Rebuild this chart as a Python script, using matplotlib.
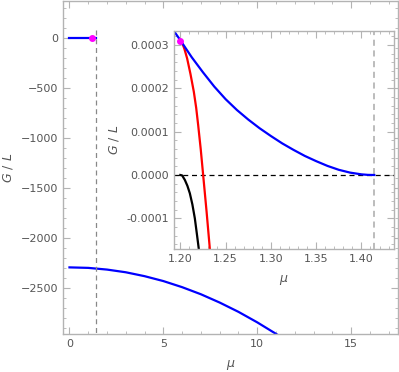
#!/usr/bin/env python3
"""
G/L versus mu, full range with a zoomed inset near the transition.
"""

import numpy as np
import matplotlib.pyplot as plt
from matplotlib.ticker import MultipleLocator, FormatStrFormatter

# main panel data
mu_low = [0, 1, 2, 3, 4, 5, 6, 7, 8, 9, 10, 11, 11.5]
g_low = [-2297, -2302, -2319, -2346, -2385, -2434, -2495, -2566, -2649, -2742, -2847, -2962, -3024]
mu_top = [0, 1.2, 1.4142]
g_top = [0, 0, 0]
mu_crit = 1.4142
mu_dot = 1.2
g_dot_main = 0

# inset data
mu_blue = [1.193, 1.2, 1.2125, 1.225, 1.2375, 1.25, 1.2625, 1.275, 1.2875, 1.3, 1.3125,
           1.325, 1.3375, 1.35, 1.3625, 1.375, 1.3875, 1.4, 1.4071, 1.4142]
g_blue = [0.000332, 0.000311, 0.000272, 0.000237, 0.000204, 0.000175, 0.000150, 0.000128,
          0.000108, 0.000090, 0.000073, 0.000058, 0.000044, 0.000032, 0.000021, 0.000012,
          0.0000055, 0.0000015, 0.0000003, 0.0]
mu_red = [1.2013, 1.2045, 1.2075, 1.2112, 1.2149, 1.2175, 1.2197, 1.2225, 1.2252, 1.229, 1.2326, 1.235]
g_red = [0.000309, 0.000291, 0.000269, 0.000233, 0.000192, 0.000155, 0.000115, 0.000060, 0.0,
         -0.000085, -0.000171, -0.000225]
mu_black = [1.2, 1.202, 1.205, 1.2078, 1.2105, 1.2133, 1.216, 1.2182, 1.2204, 1.223]
g_black = [0.0, -0.000001, -0.0000115, -0.000025, -0.0000423, -0.000068, -0.0001, -0.000135,
           -0.000171, -0.00021]
g_dot_inset = 0.000309

spine_col = '#b3b3b3'
text_col = '#555555'
plt.rcParams['font.family'] = 'DejaVu Sans'
plt.rcParams['font.size'] = 8


def style_axes(ax):
    for s in ax.spines.values():
        s.set_color(spine_col)
        s.set_linewidth(1.0)
    ax.tick_params(which='both', direction='in', top=True, right=True,
                   color=spine_col, labelcolor=text_col, labelsize=8)
    ax.tick_params(which='major', length=5, width=0.8)
    ax.tick_params(which='minor', length=2.5, width=0.6)


fig = plt.figure(figsize=(3.99, 3.72), dpi=100)

ax = fig.add_axes([0.1586, 0.1013, 0.8389, 0.897])
ax.plot(mu_low, g_low, color='#0000ff', lw=1.6)
ax.plot(mu_top, g_top, color='#0000ff', lw=1.6)
ax.plot([mu_crit, mu_crit], [80, -3100], color='#888888', lw=0.9, ls=(0, (4, 3)))
ax.plot([mu_dot], [g_dot_main], 'o', color='#ff00ff', ms=4, zorder=5)
ax.set_xlim(-0.33, 17.5)
ax.set_ylim(-2967, 373)
ax.xaxis.set_major_locator(MultipleLocator(5))
ax.xaxis.set_minor_locator(MultipleLocator(1))
ax.yaxis.set_major_locator(MultipleLocator(500))
ax.yaxis.set_minor_locator(MultipleLocator(100))
style_axes(ax)
ax.set_xlabel(r'$\mu$', color=text_col, fontsize=9, labelpad=6)
ax.set_ylabel(r'$G\ /\ L$', color=text_col, fontsize=9, labelpad=4)

ins = fig.add_axes([0.4361, 0.3298, 0.5514, 0.5882])
ins.set_facecolor('white')
ins.axhline(0, color='black', lw=0.9, ls=(0, (4, 3)))
ins.axvline(mu_crit, color='#aaaaaa', lw=1.1, ls=(0, (4, 3)))
ins.plot(mu_black, g_black, color='black', lw=1.6)
ins.plot(mu_red, g_red, color='#ff0000', lw=1.6)
ins.plot(mu_blue, g_blue, color='#0000ff', lw=1.6)
ins.plot([mu_dot], [g_dot_inset], 'o', color='#ff00ff', ms=4, zorder=5)
ins.set_xlim(1.193, 1.436)
ins.set_ylim(-0.0001715, 0.0003335)
ins.xaxis.set_major_locator(MultipleLocator(0.05))
ins.xaxis.set_minor_locator(MultipleLocator(0.01))
ins.yaxis.set_major_locator(MultipleLocator(0.0001))
ins.yaxis.set_minor_locator(MultipleLocator(0.00002))
ins.xaxis.set_major_formatter(FormatStrFormatter('%.2f'))
ins.yaxis.set_major_formatter(FormatStrFormatter('%.4f'))
style_axes(ins)
ins.set_xlabel(r'$\mu$', color=text_col, fontsize=9, labelpad=6)
ins.set_ylabel(r'$G\ /\ L$', color=text_col, fontsize=9, labelpad=4)

plt.savefig('out.png', dpi=100)
